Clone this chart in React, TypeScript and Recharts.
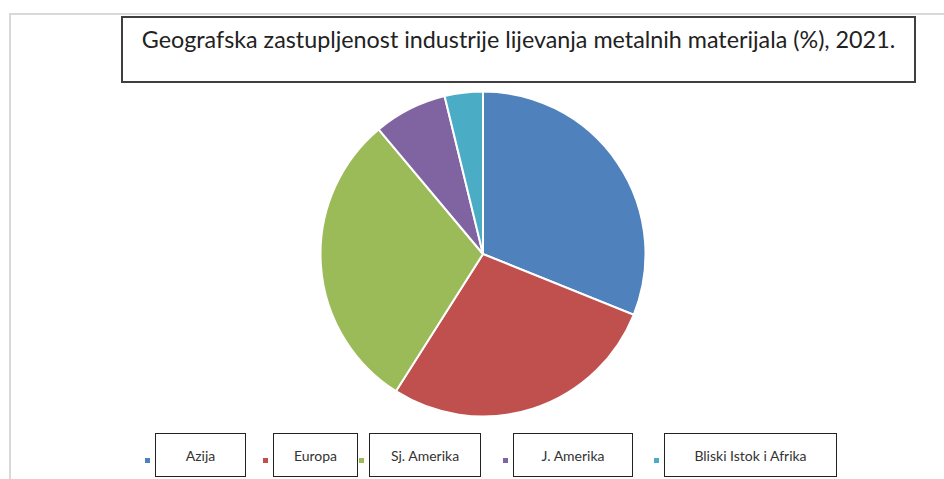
import React from 'react';
import { PieChart, Pie, Cell, Legend } from 'recharts';

const regions = ['Azija', 'Europa', 'Sj. Amerika', 'J. Amerika', 'Bliski Istok i Afrika'];
const shares = [31.1, 27.9, 29.9, 7.3, 3.8];
const colors = ['#4F81BD', '#C0504D', '#9BBB59', '#8064A2', '#4BACC6'];

const data = regions.map((name, i) => ({ name, value: shares[i] }));

const legendBoxes = [
  { left: 155, width: 91 },
  { left: 273, width: 85 },
  { left: 369, width: 112 },
  { left: 513, width: 120 },
  { left: 664, width: 173 },
];

const BoxLegend: React.FC<any> = ({ payload }) => {
  if (!payload) return null;
  // keep the series order, not the alphabetical one
  const items = [...payload].sort((a: any, b: any) => regions.indexOf(a.value) - regions.indexOf(b.value));
  return (
    <div style={{ position: 'relative', width: 944, height: 46 }}>
      {items.map((entry: any, i: number) => {
        const box = legendBoxes[i];
        return (
          <React.Fragment key={entry.value}>
            <div
              style={{
                position: 'absolute',
                left: box.left - 10,
                top: 25,
                width: 5,
                height: 5,
                background: entry.color,
              }}
            />
            <div
              style={{
                position: 'absolute',
                left: box.left,
                top: 0,
                width: box.width,
                height: 44,
                boxSizing: 'border-box',
                border: '1px solid #222',
                background: '#fff',
                display: 'flex',
                alignItems: 'center',
                justifyContent: 'center',
                fontFamily: 'Lato, sans-serif',
                fontSize: 14,
                color: '#333',
                whiteSpace: 'nowrap',
              }}
            >
              {entry.value}
            </div>
          </React.Fragment>
        );
      })}
    </div>
  );
};

export default function App() {
  return (
    <div style={{ position: 'absolute', left: 0, top: 0, width: 944, height: 479, background: '#fff', overflow: 'hidden' }}>
      <div
        style={{
          position: 'absolute',
          left: 9,
          top: 13,
          width: 960,
          height: 500,
          borderLeft: '2px solid #d9d9d9',
          borderTop: '2px solid #d9d9d9',
        }}
      />
      <div
        style={{
          position: 'absolute',
          left: 121,
          top: 16,
          width: 795,
          height: 67,
          boxSizing: 'border-box',
          border: '2px solid #3f3f3f',
          background: '#fff',
          fontFamily: 'Lato, sans-serif',
          fontSize: 23.3,
          color: '#222',
          textAlign: 'center',
          paddingTop: 7,
          whiteSpace: 'nowrap',
        }}
      >
        Geografska zastupljenost industrije lijevanja metalnih materijala (%), 2021.
      </div>
      <div style={{ position: 'absolute', left: 0, top: 0 }}>
        <PieChart width={944} height={479} margin={{ top: 0, right: 0, bottom: 0, left: 0 }}>
          <Pie
            data={data}
            dataKey="value"
            nameKey="name"
            cx={483}
            cy={254}
            outerRadius={162.5}
            startAngle={90}
            endAngle={-270}
            stroke="#fff"
            strokeWidth={2}
            isAnimationActive={false}
          >
            {data.map((d, i) => (
              <Cell key={d.name} fill={colors[i]} />
            ))}
          </Pie>
          <Legend
            content={<BoxLegend />}
            verticalAlign="bottom"
            wrapperStyle={{ position: 'absolute', left: 0, top: 433, width: 944, height: 46 }}
          />
        </PieChart>
      </div>
    </div>
  );
}
